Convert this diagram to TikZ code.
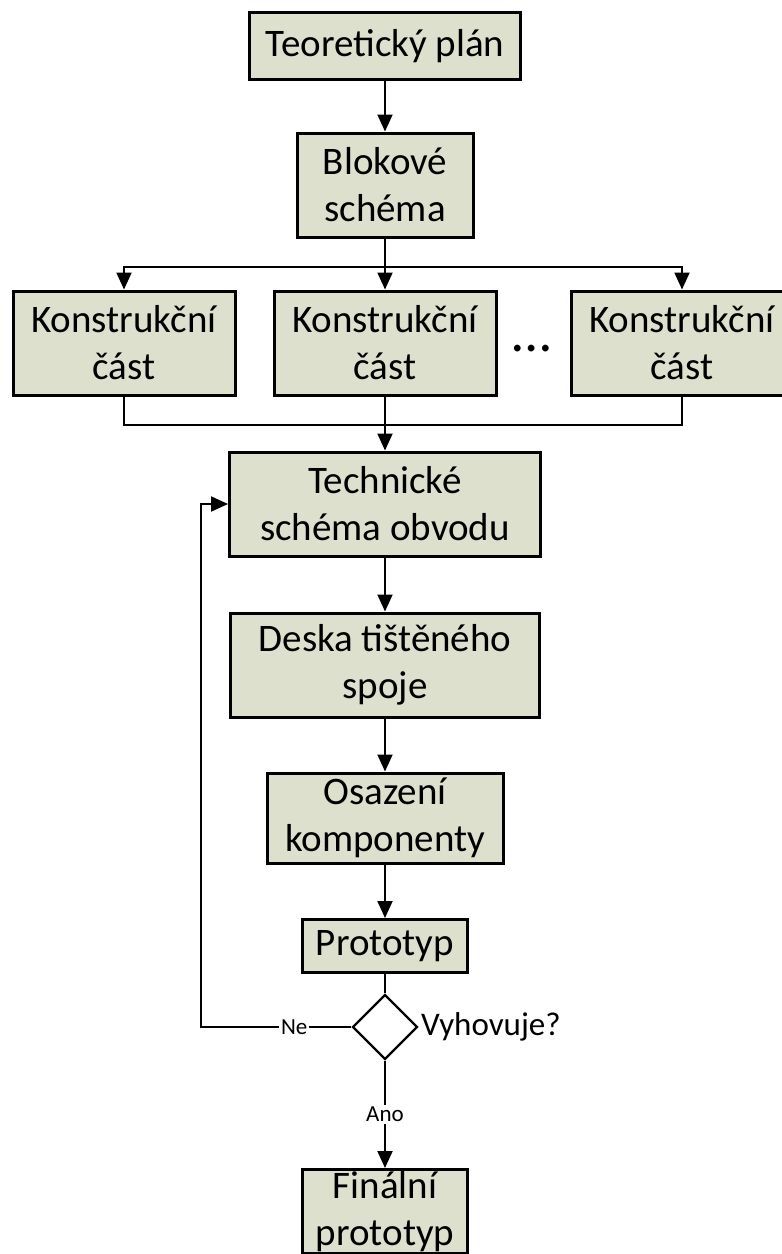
\documentclass[tikz,border=0pt]{standalone}
\usepackage{fontspec}
\setmainfont{Carlito}
\usetikzlibrary{arrows.meta,shapes.geometric}
\definecolor{boxfill}{RGB}{221,224,204}

\begin{document}
\begin{tikzpicture}[
  x=0.5pt, y=-0.5pt,
  krok/.style={draw, line width=1.5pt, fill=boxfill, align=center, inner sep=0pt, font=\fontsize{19.5}{23.5}\selectfont},
  rozhod/.style={draw, diamond, line width=1.2pt, minimum width=32.5pt, minimum height=32.5pt, inner sep=0pt, fill=white},
  spoj/.style={line width=1pt},
  sipka/.style={spoj, -{Triangle[length=8.5pt,width=7.5pt]}},
  popis/.style={fill=white, inner sep=1pt, font=\fontsize{11.5}{13}\selectfont}
]
\useasboundingbox (0,0) rectangle (782,1254);
\clip (0,0) rectangle (782,1254);

\node[krok, minimum width=135.5pt, minimum height=33.5pt] (teo) at (385,46) {Teoretický plán};
\node[krok, minimum width=88pt, minimum height=52pt] (blok) at (385,185) {Blokové\\schéma};
\node[krok, minimum width=111pt, minimum height=52pt] (kon1) at (124,343) {Konstrukční\\část};
\node[krok, minimum width=111pt, minimum height=52pt] (kon2) at (385,343) {Konstrukční\\část};
\node[krok, minimum width=111pt, minimum height=52pt] (kon3) at (682,343) {Konstrukční\\část};
\node[font=\fontsize{28}{30}\selectfont] (tecky) at (532,349) {…};
\node[krok, minimum width=155.5pt, minimum height=52pt] (tech) at (385,504) {Technické\\schéma obvodu};
\node[krok, minimum width=154.5pt, minimum height=52pt] (deska) at (385,665) {Deska tištěného\\spoje};
\node[krok, minimum width=118pt, minimum height=45pt] (osaz) at (385,818) {Osazení\\komponenty};
\node[krok, minimum width=82.5pt, minimum height=26.5pt] (proto) at (385,946) {Prototyp};
\node[rozhod] (test) at (385,1027) {};
\node[right, inner sep=1pt, font=\fontsize{16.5}{19}\selectfont] (otazka) at (test.east) {Vyhovuje?};
\node[krok, minimum width=82.5pt, minimum height=42pt, anchor=north] (final) at (385,1168) {Finální\\prototyp};

\coordinate (rozdel) at (385,267);
\coordinate (spoj) at (385,425);
\coordinate (zpet) at (201,1027);

\draw[sipka] (teo) -- (blok);
\draw[spoj] (blok) -- (rozdel);
\draw[sipka] (rozdel) -| (kon1.north);
\draw[sipka] (rozdel) -- (kon2.north);
\draw[sipka] (rozdel) -| (kon3.north);
\draw[spoj] (kon1.south) |- (spoj);
\draw[spoj] (kon3.south) |- (spoj);
\draw[sipka] (kon2.south) -- (tech.north);
\draw[sipka] (tech) -- (deska);
\draw[sipka] (deska) -- (osaz);
\draw[sipka] (osaz) -- (proto);
\draw[spoj] (proto) -- (test);
\draw[sipka] (test.west) -- node[popis, pos=0.38] {Ne} (zpet) |- (tech.west);
\draw[sipka] (test.south) -- node[popis] {Ano} (final.north);
\end{tikzpicture}
\end{document}
